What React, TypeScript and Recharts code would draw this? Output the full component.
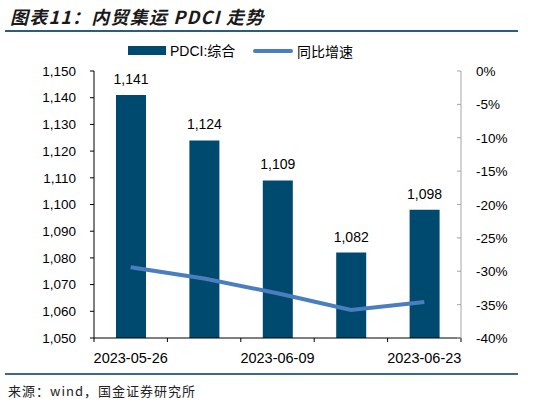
import React from "react";
import {
  ComposedChart,
  Bar,
  Line,
  XAxis,
  YAxis,
  LabelList,
} from "recharts";

const dates = ["2023-05-26", "2023-06-02", "2023-06-09", "2023-06-16", "2023-06-23"];
const pdci = [1141, 1124, 1109, 1082, 1098];
const yoy = [-29.4, -31.1, -33.3, -35.8, -34.6];
const leftTicks = [1050, 1060, 1070, 1080, 1090, 1100, 1110, 1120, 1130, 1140, 1150];
const rightTicks = [-40, -35, -30, -25, -20, -15, -10, -5, 0];

const data = dates.map((d, i) => ({ date: d, pdci: pdci[i], yoy: yoy[i] }));

const W = 541;
const H = 404;
const LEFT_W = 94;
const RIGHT_W = 80;
const BAND = (W - LEFT_W - RIGHT_W) / dates.length;

const BAR_COLOR = "#004a70";
const LINE_COLOR = "#4a7ebf";
const LATIN = "'Liberation Sans', Arial, sans-serif";
const CJK = "'Noto Sans CJK SC', sans-serif";
const MIXED = "'Liberation Sans', Arial, 'Noto Sans CJK SC', sans-serif";

const fmt = (v: number) => v.toLocaleString("en-US");

function XTick(props: any) {
  const { x, y, index, payload } = props;
  const last = index === dates.length - 1;
  return (
    <g>
      <line x1={x - BAND / 2} x2={x - BAND / 2} y1={y} y2={y + 4} stroke="#000" />
      {last && <line x1={x + BAND / 2} x2={x + BAND / 2} y1={y} y2={y + 4} stroke="#000" />}
      {index % 2 === 0 && (
        <text x={x} y={y + 25} textAnchor="middle" fontSize={14.5} fontFamily={LATIN} fill="#000">
          {payload.value}
        </text>
      )}
    </g>
  );
}

function RightTick(props: any) {
  const { x, y, payload } = props;
  const axisX = x - 15;
  return (
    <g>
      <line x1={axisX - 4} x2={axisX} y1={y} y2={y} stroke="#a6a6a6" />
      <text x={x} y={y + 5} textAnchor="start" fontSize={13.5} fontFamily={LATIN} fill="#000">
        {payload.value + "%"}
      </text>
    </g>
  );
}

export default function App() {
  return (
    <div style={{ position: "absolute", left: 0, top: 0, width: W, height: H, background: "#fff" }}>
      <div
        style={{
          position: "absolute",
          left: 10,
          top: 4,
          fontFamily: CJK,
          fontSize: 18,
          fontWeight: 700,
          fontStyle: "italic",
          letterSpacing: 1.2,
          color: "#1a1a1a",
          lineHeight: "24px",
          whiteSpace: "nowrap",
        }}
      >
        图表11：内贸集运 PDCI 走势
      </div>
      <div style={{ position: "absolute", left: 5, top: 30, width: 513, height: 2, background: "#2b5e7e" }} />

      {/* legend */}
      <div style={{ position: "absolute", left: 128, top: 46, width: 38, height: 9, background: BAR_COLOR }} />
      <div
        style={{
          position: "absolute",
          left: 170,
          top: 41,
          fontFamily: MIXED,
          fontSize: 14,
          lineHeight: "20px",
          color: "#000",
          whiteSpace: "nowrap",
        }}
      >
        PDCI:综合
      </div>
      <div
        style={{
          position: "absolute",
          left: 253,
          top: 49,
          width: 40,
          height: 4,
          borderRadius: 2,
          background: LINE_COLOR,
        }}
      />
      <div
        style={{
          position: "absolute",
          left: 297,
          top: 41,
          fontFamily: CJK,
          fontSize: 14,
          lineHeight: "20px",
          color: "#000",
          whiteSpace: "nowrap",
        }}
      >
        同比增速
      </div>

      <div style={{ position: "absolute", left: 0, top: 0 }}>
        <ComposedChart width={W} height={H} data={data} margin={{ top: 71, right: 0, bottom: 36, left: 0 }}>
          <XAxis
            dataKey="date"
            interval={0}
            height={30}
            tickLine={false}
            tickSize={0}
            tickMargin={0}
            axisLine={{ stroke: "#000" }}
            tick={<XTick />}
          />
          <YAxis
            yAxisId="left"
            orientation="left"
            width={LEFT_W}
            domain={[1050, 1150]}
            ticks={leftTicks}
            interval={0}
            tickFormatter={fmt}
            axisLine={{ stroke: "#000" }}
            tickLine={{ stroke: "#000" }}
            tickSize={4}
            tickMargin={14}
            tick={{ fill: "#000", fontSize: 13.5, fontFamily: LATIN }}
          />
          <YAxis
            yAxisId="right"
            orientation="right"
            width={RIGHT_W}
            domain={[-40, 0]}
            ticks={rightTicks}
            interval={0}
            axisLine={{ stroke: "#a6a6a6" }}
            tickLine={false}
            tickSize={0}
            tickMargin={15}
            tick={<RightTick />}
          />
          <Bar yAxisId="left" dataKey="pdci" fill={BAR_COLOR} barSize={30} isAnimationActive={false}>
            <LabelList
              dataKey="pdci"
              position="top"
              offset={11}
              formatter={(v: any) => fmt(Number(v))}
              style={{ fill: "#000", fontSize: 14, fontFamily: LATIN }}
            />
          </Bar>
          <Line
            yAxisId="right"
            dataKey="yoy"
            type="linear"
            stroke={LINE_COLOR}
            strokeWidth={4}
            dot={false}
            activeDot={false}
            isAnimationActive={false}
          />
        </ComposedChart>
      </div>

      <div style={{ position: "absolute", left: 5, top: 373, width: 513, height: 2, background: "#3a6a88" }} />
      <div
        style={{
          position: "absolute",
          left: 8,
          top: 381,
          fontFamily: CJK,
          fontSize: 13,
          lineHeight: "20px",
          letterSpacing: 1,
          color: "#222",
          whiteSpace: "nowrap",
        }}
      >
        来源：wind，国金证券研究所
      </div>
    </div>
  );
}
